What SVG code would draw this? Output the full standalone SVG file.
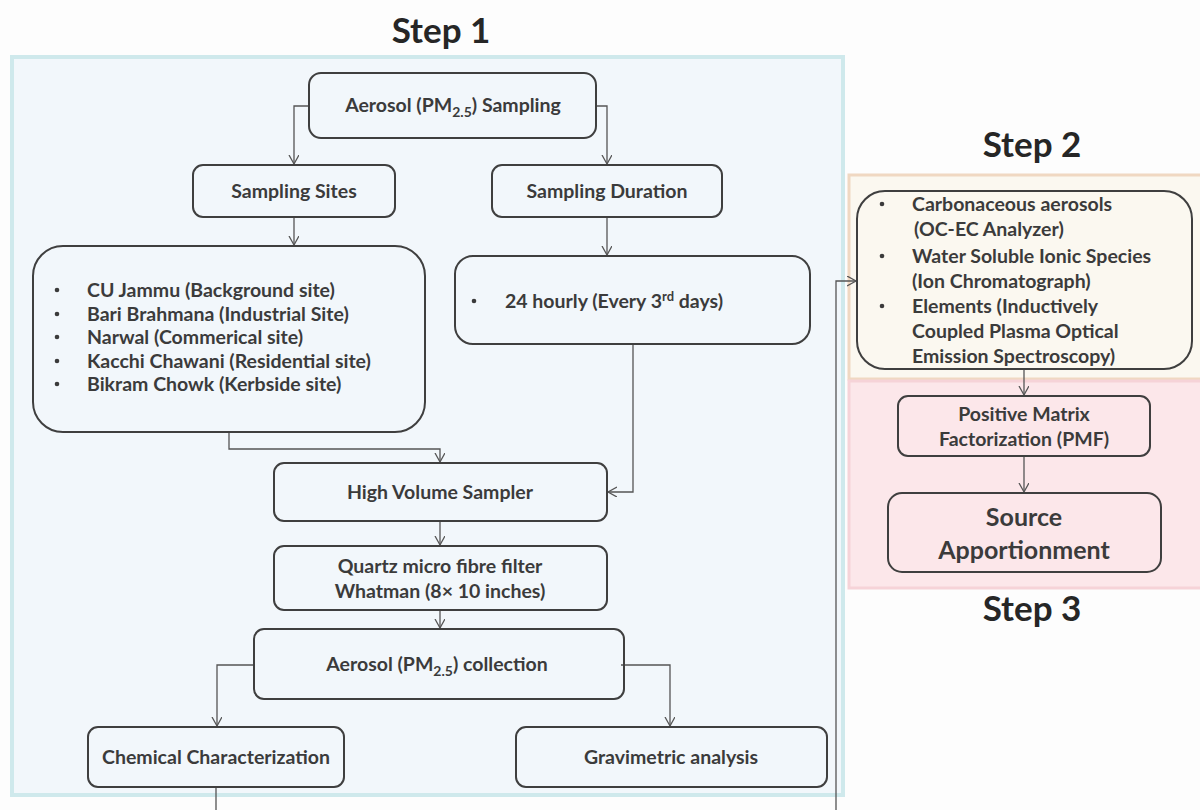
<svg xmlns="http://www.w3.org/2000/svg" width="1200" height="810" viewBox="0 0 1200 810">
<defs>
<style>
.t{font-family:Lato,"Liberation Sans",sans-serif;font-weight:bold;fill:#3b3b3b;font-size:19.5px}
.c{text-anchor:middle}
.big{font-size:25px}
.title{font-family:Lato,"Liberation Sans",sans-serif;font-weight:bold;fill:#262626;font-size:35px;text-anchor:middle}
.n{fill:none;stroke:#3f3f3f;stroke-width:2}
.e{fill:none;stroke:#555;stroke-width:1.3}
.b{fill:#3b3b3b}
</style>
<marker id="a" markerUnits="userSpaceOnUse" markerWidth="12" markerHeight="12" refX="9" refY="5" orient="auto">
<path d="M0,0 L9,5 L0,10" fill="none" stroke="#555" stroke-width="1.3"/>
</marker>
</defs>
<rect width="1200" height="810" fill="#fdfdfd"/>
<g id="step1-region">
<rect x="12" y="57" width="831" height="738" fill="#f2f7fb" stroke="#cfe9ec" stroke-width="4"/>
<text class="title" x="441" y="43">Step 1</text>
</g>
<g id="step2-region">
<rect x="849" y="175" width="355" height="204" fill="#fbf8f0" stroke="#f0d8c2" stroke-width="3"/>
<text class="title" x="1032" y="157">Step 2</text>
</g>
<g id="step3-region">
<rect x="849" y="381" width="355" height="207" fill="#fce7ea" stroke="#f6d3d8" stroke-width="3"/>
<text class="title" x="1032" y="621">Step 3</text>
</g>
<g id="connectors">
<path class="e" d="M309,106 H294 V164" marker-end="url(#a)"/>
<path class="e" d="M596,106 H607 V164" marker-end="url(#a)"/>
<path class="e" d="M294,217 V245" marker-end="url(#a)"/>
<path class="e" d="M607,217 V255" marker-end="url(#a)"/>
<path class="e" d="M229,433 V449 H440 V462" marker-end="url(#a)"/>
<path class="e" d="M633,345 V492 H608" marker-end="url(#a)"/>
<path class="e" d="M440,521 V545" marker-end="url(#a)"/>
<path class="e" d="M440,610 V628" marker-end="url(#a)"/>
<path class="e" d="M253,665 H217 V726" marker-end="url(#a)"/>
<path class="e" d="M621,665 H670 V726" marker-end="url(#a)"/>
<path class="e" d="M216,787 V816 H836 V281 H856" marker-end="url(#a)"/>
<path class="e" d="M1024,369 V395" marker-end="url(#a)"/>
<path class="e" d="M1024,456 V492" marker-end="url(#a)"/>
</g>
<g id="aerosol-sampling">
<rect class="n" x="309" y="73" width="287" height="65" rx="12"/>
<text class="t c" x="453" y="112">Aerosol (PM<tspan font-size="14" dy="5">2.5</tspan><tspan dy="-5">) Sampling</tspan></text>
</g>
<g id="sampling-sites">
<rect class="n" x="193" y="165" width="202" height="52" rx="10"/>
<text class="t c" x="294" y="198">Sampling Sites</text>
</g>
<g id="sampling-duration">
<rect class="n" x="492" y="165" width="230" height="52" rx="10"/>
<text class="t c" x="607" y="198">Sampling Duration</text>
</g>
<g id="sites-list">
<rect class="n" x="33" y="246" width="392" height="186" rx="30"/>
<circle class="b" cx="57" cy="290" r="2.3"/><text class="t" x="87" y="297">CU Jammu (Background site)</text>
<circle class="b" cx="57" cy="314" r="2.3"/><text class="t" x="87" y="321">Bari Brahmana (Industrial Site)</text>
<circle class="b" cx="57" cy="337" r="2.3"/><text class="t" x="87" y="344">Narwal (Commerical site)</text>
<circle class="b" cx="57" cy="361" r="2.3"/><text class="t" x="87" y="368">Kacchi Chawani (Residential site)</text>
<circle class="b" cx="57" cy="384" r="2.3"/><text class="t" x="87" y="391">Bikram Chowk (Kerbside site)</text>
</g>
<g id="duration-detail">
<rect class="n" x="455" y="256" width="355" height="88" rx="18"/>
<circle class="b" cx="474" cy="301" r="2.3"/>
<text class="t" x="505" y="308">24 hourly (Every 3<tspan font-size="13" dy="-7">rd</tspan><tspan dy="7"> days)</tspan></text>
</g>
<g id="high-volume-sampler">
<rect class="n" x="274" y="463" width="333" height="58" rx="10"/>
<text class="t c" x="440" y="499">High Volume Sampler</text>
</g>
<g id="quartz-filter">
<rect class="n" x="274" y="546" width="333" height="64" rx="10"/>
<text class="t c" x="440" y="573">Quartz micro fibre filter</text>
<text class="t c" x="440" y="598">Whatman (8× 10 inches)</text>
</g>
<g id="aerosol-collection">
<rect class="n" x="254" y="629" width="370" height="70" rx="10"/>
<text class="t c" x="437" y="671">Aerosol (PM<tspan font-size="14" dy="5">2.5</tspan><tspan dy="-5">) collection</tspan></text>
</g>
<g id="chemical-characterization">
<rect class="n" x="88" y="727" width="256" height="60" rx="10"/>
<text class="t c" x="216" y="764">Chemical Characterization</text>
</g>
<g id="gravimetric-analysis">
<rect class="n" x="516" y="727" width="311" height="60" rx="10"/>
<text class="t c" x="671" y="764">Gravimetric analysis</text>
</g>
<g id="analysis-list">
<rect class="n" x="857" y="191" width="335" height="178" rx="28"/>
<circle class="b" cx="882" cy="204" r="2.3"/><text class="t" x="912" y="211">Carbonaceous aerosols</text>
<text class="t" x="914" y="236">(OC-EC Analyzer)</text>
<circle class="b" cx="882" cy="256" r="2.3"/><text class="t" x="912" y="263">Water Soluble Ionic Species</text>
<text class="t" x="912" y="288">(Ion Chromatograph)</text>
<circle class="b" cx="882" cy="306" r="2.3"/><text class="t" x="912" y="313">Elements (Inductively</text>
<text class="t" x="912" y="338">Coupled Plasma Optical</text>
<text class="t" x="912" y="363">Emission Spectroscopy)</text>
</g>
<g id="pmf">
<rect class="n" x="898" y="396" width="252" height="60" rx="10"/>
<text class="t c" x="1024" y="421">Positive Matrix</text>
<text class="t c" x="1024" y="446">Factorization (PMF)</text>
</g>
<g id="source-apportionment">
<rect class="n" x="888" y="493" width="273" height="79" rx="14"/>
<text class="t c big" x="1024" y="526">Source</text>
<text class="t c big" x="1024" y="559">Apportionment</text>
</g>
</svg>
